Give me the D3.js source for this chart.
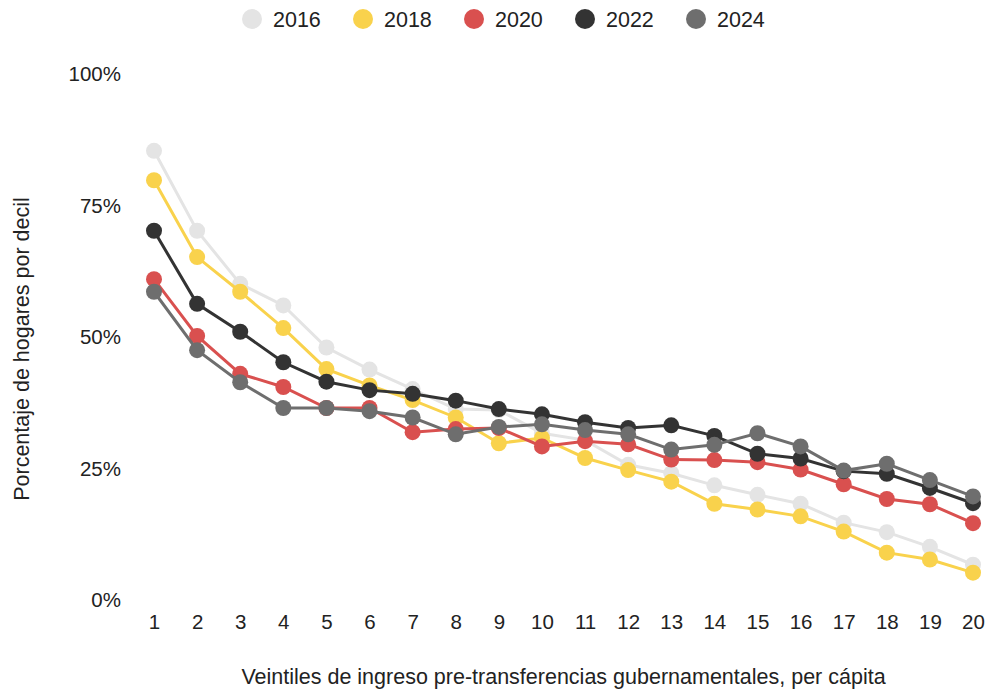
<!DOCTYPE html>
<html>
<head>
<meta charset="utf-8">
<script src="https://cdn.jsdelivr.net/npm/d3@7"></script>
<style>
  body { margin: 0; background: #fff; }
  svg text { font-family: "Liberation Sans", Arial, sans-serif; fill: #222; }
</style>
</head>
<body>
<div id="chart"></div>
<script>
// Veintiles (x axis)
const veintiles = d3.range(1, 21);
const years = ["2016", "2018", "2020", "2022", "2024"];
const yearColours = ["#e4e4e4", "#f9d24c", "#d9504f", "#333333", "#6e6e6e"];
const yTicks = [0, 0.25, 0.5, 0.75, 1];

// Share of households per veintil (%)
const v2016 = [85.4, 70.2, 60.1, 56.0, 48.0, 43.8, 40.1, 36.3, 36.1, 31.7, 30.4, 25.7, 24.1, 21.8, 20.0, 18.3, 14.7, 12.9, 10.1, 6.7];
const v2018 = [79.8, 65.2, 58.6, 51.7, 43.9, 40.8, 38.0, 34.7, 29.8, 30.8, 27.0, 24.7, 22.5, 18.3, 17.2, 15.9, 13.0, 9.0, 7.7, 5.2];
const v2020 = [61.0, 50.2, 43.0, 40.5, 36.5, 36.5, 31.9, 32.5, 32.7, 29.2, 30.2, 29.6, 26.7, 26.6, 26.2, 24.8, 22.0, 19.2, 18.2, 14.6];
const v2022 = [70.2, 56.3, 51.0, 45.2, 41.5, 39.9, 39.2, 37.9, 36.3, 35.3, 33.8, 32.7, 33.2, 31.2, 27.8, 26.9, 24.5, 24.0, 21.3, 18.4];
const v2024 = [58.6, 47.5, 41.4, 36.5, 36.5, 35.9, 34.7, 31.5, 32.9, 33.4, 32.3, 31.5, 28.6, 29.5, 31.7, 29.2, 24.6, 25.9, 22.8, 19.7];
const seriesValues = [v2016, v2018, v2020, v2022, v2024];

const width = 986;
const height = 690;
const margin = {top: 74, left: 154, right: 13, bottom: 90};
const fontSize = "20.5px";

const svg = d3.select("#chart")
  .append("svg")
    .attr("width", width)
    .attr("height", height);

const xScale = d3.scaleLinear()
  .domain([1, 20])
  .range([margin.left, width - margin.right]);
const yScale = d3.scaleLinear()
  .domain([0, 1])
  .range([height - margin.bottom, margin.top]);

// Axes, no lines, just labels
const leftAxis = d3.axisLeft(yScale)
  .tickValues(yTicks)
  .tickFormat(d3.format(".0%"))
  .tickSize(0)
  .tickPadding(33);
svg.append("g")
    .attr("class", "axis-y")
    .attr("transform", `translate(${margin.left},0)`)
    .call(leftAxis)
    .call(g => g.select(".domain").remove())
    .selectAll("text")
      .style("font-size", fontSize)
      .attr("fill", "#222");

const bottomAxis = d3.axisBottom(xScale)
  .tickValues(veintiles)
  .tickFormat(d3.format("d"))
  .tickSize(0)
  .tickPadding(14);
svg.append("g")
    .attr("class", "axis-x")
    .attr("transform", `translate(0,${height - margin.bottom})`)
    .call(bottomAxis)
    .call(g => g.select(".domain").remove())
    .selectAll("text")
      .style("font-size", fontSize)
      .attr("fill", "#222");

// Axis titles
svg.append("text")
  .attr("transform", `translate(29,${(margin.top + height - margin.bottom) / 2 + 12}) rotate(-90)`)
  .attr("text-anchor", "middle")
  .style("font-size", "21.5px")
  .text("Porcentaje de hogares por decil");

// sits a bit higher than the reference so the descenders are not clipped
svg.append("text")
  .attr("x", (margin.left + width - margin.right) / 2)
  .attr("y", 684)
  .attr("text-anchor", "middle")
  .style("font-size", "21.5px")
  .text("Veintiles de ingreso pre-transferencias gubernamentales, per cápita");

// Lines and points
const line = d3.line()
  .x((d, i) => xScale(veintiles[i]))
  .y(d => yScale(d / 100));

seriesValues.forEach((vals, s) => {
  const g = svg.append("g").attr("class", "series");
  g.append("path")
    .datum(vals)
    .attr("fill", "none")
    .attr("stroke", yearColours[s])
    .attr("stroke-width", 3)
    .attr("d", line);
  g.selectAll("circle")
    .data(vals)
    .join("circle")
      .attr("cx", (d, i) => xScale(veintiles[i]))
      .attr("cy", d => yScale(d / 100))
      .attr("r", 8)
      .attr("fill", yearColours[s]);
});

// Legend on top
const legend = svg.append("g").attr("class", "legend");
years.forEach((yr, i) => {
  const item = legend.append("g")
    .attr("transform", `translate(${252 + i * 111},19)`);
  item.append("circle")
    .attr("r", 10)
    .attr("fill", yearColours[i]);
  item.append("text")
    .attr("x", 21)
    .attr("dy", "0.35em")
    .style("font-size", "21.5px")
    .text(yr);
});
</script>
</body>
</html>
